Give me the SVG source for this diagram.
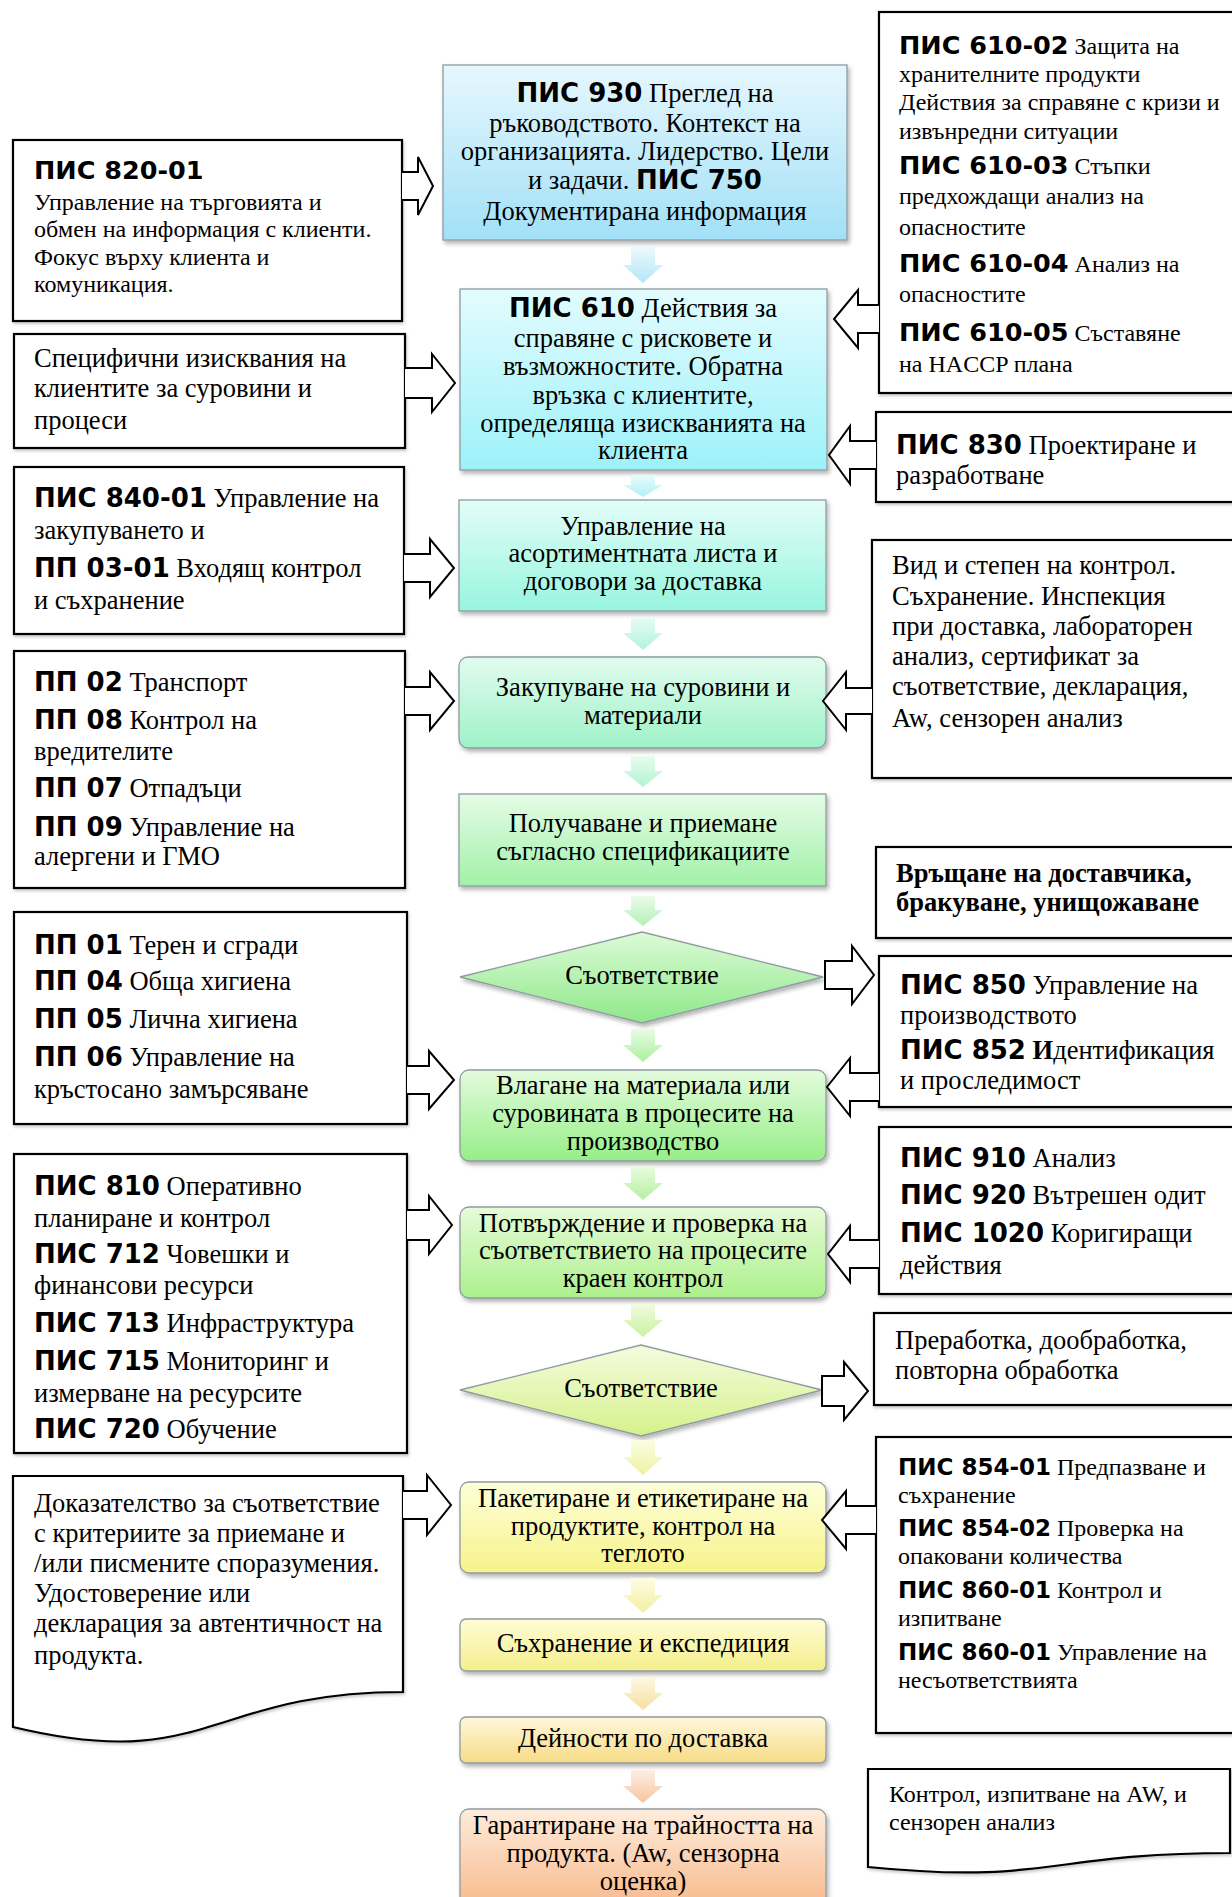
<svg xmlns="http://www.w3.org/2000/svg" width="1232" height="1897" viewBox="0 0 1232 1897">
<style>
.c{font-family:"Liberation Serif","Times New Roman",serif;font-size:26.5px;text-anchor:middle;fill:#000}
.s{font-family:"Liberation Serif","Times New Roman",serif;font-size:26.5px;fill:#000}
.s24{font-family:"Liberation Serif","Times New Roman",serif;font-size:24px;fill:#000}
.b{font-family:"DejaVu Sans","Liberation Sans",sans-serif;font-weight:bold;font-size:26px}
.b25{font-family:"DejaVu Sans","Liberation Sans",sans-serif;font-weight:bold;font-size:25.5px}
.b23{font-family:"DejaVu Sans","Liberation Sans",sans-serif;font-weight:bold;font-size:23px}
.sb{font-weight:bold}
.cbox{stroke:#8f9ba0;stroke-width:1.3}
.side{fill:#fff;stroke:#000;stroke-width:2.2}
.barrow{fill:#fff;stroke:#000;stroke-width:2;stroke-linejoin:miter}
</style>
<defs>
<filter id="sh" x="-5%" y="-5%" width="115%" height="125%">
<feDropShadow dx="2" dy="3" stdDeviation="2" flood-color="#000" flood-opacity="0.3"/>
</filter>
<filter id="sh2" x="-5%" y="-5%" width="115%" height="125%">
<feDropShadow dx="1" dy="2" stdDeviation="1.5" flood-color="#000" flood-opacity="0.22"/>
</filter>
<linearGradient id="g930" x1="0" y1="0" x2="0" y2="1"><stop offset="0" stop-color="#e6f7fd"/><stop offset="1" stop-color="#a2e0f7"/></linearGradient>
<linearGradient id="g610" x1="0" y1="0" x2="0" y2="1"><stop offset="0" stop-color="#e3fcfe"/><stop offset="1" stop-color="#9cf1f9"/></linearGradient>
<linearGradient id="gAs" x1="0" y1="0" x2="0" y2="1"><stop offset="0" stop-color="#e2fdf8"/><stop offset="1" stop-color="#98f5df"/></linearGradient>
<linearGradient id="gZak" x1="0" y1="0" x2="0" y2="1"><stop offset="0" stop-color="#e2fcef"/><stop offset="1" stop-color="#9ef2c8"/></linearGradient>
<linearGradient id="gPol" x1="0" y1="0" x2="0" y2="1"><stop offset="0" stop-color="#e6fce7"/><stop offset="1" stop-color="#a2f1a8"/></linearGradient>
<linearGradient id="gD1" x1="0" y1="0" x2="0" y2="1"><stop offset="0" stop-color="#dcfbd7"/><stop offset="1" stop-color="#8fe88a"/></linearGradient>
<linearGradient id="gVl" x1="0" y1="0" x2="0" y2="1"><stop offset="0" stop-color="#e4fbdd"/><stop offset="1" stop-color="#96ee88"/></linearGradient>
<linearGradient id="gPo" x1="0" y1="0" x2="0" y2="1"><stop offset="0" stop-color="#e7fbd8"/><stop offset="1" stop-color="#acf08c"/></linearGradient>
<linearGradient id="gD2" x1="0" y1="0" x2="0" y2="1"><stop offset="0" stop-color="#f5fbde"/><stop offset="1" stop-color="#d5f28b"/></linearGradient>
<linearGradient id="gPak" x1="0" y1="0" x2="0" y2="1"><stop offset="0" stop-color="#fefed9"/><stop offset="1" stop-color="#f6f38a"/></linearGradient>
<linearGradient id="gSah" x1="0" y1="0" x2="0" y2="1"><stop offset="0" stop-color="#fefdd6"/><stop offset="1" stop-color="#f5ee8c"/></linearGradient>
<linearGradient id="gDei" x1="0" y1="0" x2="0" y2="1"><stop offset="0" stop-color="#fef7da"/><stop offset="1" stop-color="#f7dc86"/></linearGradient>
<linearGradient id="gGar" x1="0" y1="0" x2="0" y2="1"><stop offset="0" stop-color="#feecdd"/><stop offset="1" stop-color="#f7b98a"/></linearGradient>
<linearGradient id="a1" x1="0" y1="0" x2="0" y2="1"><stop offset="0" stop-color="#eef9fd"/><stop offset="1" stop-color="#b5e6f6"/></linearGradient>
<linearGradient id="a2" x1="0" y1="0" x2="0" y2="1"><stop offset="0" stop-color="#eafcfd"/><stop offset="1" stop-color="#b0f1f5"/></linearGradient>
<linearGradient id="a3" x1="0" y1="0" x2="0" y2="1"><stop offset="0" stop-color="#e8fcf5"/><stop offset="1" stop-color="#b0f3df"/></linearGradient>
<linearGradient id="a4" x1="0" y1="0" x2="0" y2="1"><stop offset="0" stop-color="#e8fcf0"/><stop offset="1" stop-color="#b3f2d0"/></linearGradient>
<linearGradient id="a5" x1="0" y1="0" x2="0" y2="1"><stop offset="0" stop-color="#eafcea"/><stop offset="1" stop-color="#b3f0b5"/></linearGradient>
<linearGradient id="a6" x1="0" y1="0" x2="0" y2="1"><stop offset="0" stop-color="#e8fce4"/><stop offset="1" stop-color="#acef9f"/></linearGradient>
<linearGradient id="a7" x1="0" y1="0" x2="0" y2="1"><stop offset="0" stop-color="#eafce2"/><stop offset="1" stop-color="#b5efa0"/></linearGradient>
<linearGradient id="a8" x1="0" y1="0" x2="0" y2="1"><stop offset="0" stop-color="#f1fbe0"/><stop offset="1" stop-color="#c9f29e"/></linearGradient>
<linearGradient id="a9" x1="0" y1="0" x2="0" y2="1"><stop offset="0" stop-color="#fbfde4"/><stop offset="1" stop-color="#eef4a0"/></linearGradient>
<linearGradient id="a10" x1="0" y1="0" x2="0" y2="1"><stop offset="0" stop-color="#fdfde4"/><stop offset="1" stop-color="#f3f0a0"/></linearGradient>
<linearGradient id="a11" x1="0" y1="0" x2="0" y2="1"><stop offset="0" stop-color="#fdf9e4"/><stop offset="1" stop-color="#f5e0a0"/></linearGradient>
<linearGradient id="a12" x1="0" y1="0" x2="0" y2="1"><stop offset="0" stop-color="#fdeee4"/><stop offset="1" stop-color="#f7c59f"/></linearGradient>
</defs>
<rect width="1232" height="1897" fill="#fff"/>

<!-- central column -->
<g id="n930"><rect class="cbox" x="443" y="65" width="404" height="175" fill="url(#g930)" filter="url(#sh)"/>
<text class="c" x="645" y="102"><tspan class="b">ПИС 930</tspan> Преглед на</text>
<text class="c" x="645" y="132">ръководството. Контекст на</text>
<text class="c" x="645" y="160">организацията. Лидерство. Цели</text>
<text class="c" x="645" y="189">и задачи. <tspan class="b">ПИС 750</tspan></text>
<text class="c" x="645" y="220">Документирана информация</text></g>

<g id="n610"><rect class="cbox" x="460" y="289" width="367" height="181" fill="url(#g610)" filter="url(#sh)"/>
<text class="c" x="643" y="317"><tspan class="b">ПИС 610</tspan> Действия за</text>
<text class="c" x="643" y="347">справяне с рисковете и</text>
<text class="c" x="643" y="375">възможностите. Обратна</text>
<text class="c" x="643" y="404">връзка с клиентите,</text>
<text class="c" x="643" y="432">определяща изискванията на</text>
<text class="c" x="643" y="459">клиента</text></g>

<g id="nAsort"><rect class="cbox" x="459" y="500" width="367" height="111" fill="url(#gAs)" filter="url(#sh)"/>
<text class="c" x="643" y="535">Управление на</text>
<text class="c" x="643" y="562">асортиментната листа и</text>
<text class="c" x="643" y="590">договори за доставка</text></g>

<g id="nZak"><rect class="cbox" x="459" y="657" width="367" height="91" rx="9" fill="url(#gZak)" filter="url(#sh)"/>
<text class="c" x="643" y="696">Закупуване на суровини и</text>
<text class="c" x="643" y="724">материали</text></g>

<g id="nPol"><rect class="cbox" x="459" y="794" width="367" height="92" fill="url(#gPol)" filter="url(#sh)"/>
<text class="c" x="643" y="832">Получаване и приемане</text>
<text class="c" x="643" y="860">съгласно спецификациите</text></g>

<g id="nD1"><polygon class="cbox" points="460,977 642,932 823,977 642,1023" fill="url(#gD1)" filter="url(#sh)"/>
<text class="c" x="642" y="984">Съответствие</text></g>

<g id="nVlag"><rect class="cbox" x="460" y="1070" width="366" height="91" rx="9" fill="url(#gVl)" filter="url(#sh)"/>
<text class="c" x="643" y="1094">Влагане на материала или</text>
<text class="c" x="643" y="1122">суровината в процесите на</text>
<text class="c" x="643" y="1150">производство</text></g>

<g id="nPotv"><rect class="cbox" x="460" y="1207" width="366" height="91" rx="9" fill="url(#gPo)" filter="url(#sh)"/>
<text class="c" x="643" y="1232">Потвърждение и проверка на</text>
<text class="c" x="643" y="1259">съответствието на процесите</text>
<text class="c" x="643" y="1287">краен контрол</text></g>

<g id="nD2"><polygon class="cbox" points="460,1390 641,1345 822,1390 641,1436" fill="url(#gD2)" filter="url(#sh)"/>
<text class="c" x="641" y="1397">Съответствие</text></g>

<g id="nPak"><rect class="cbox" x="460" y="1482" width="366" height="91" rx="9" fill="url(#gPak)" filter="url(#sh)"/>
<text class="c" x="643" y="1507">Пакетиране и етикетиране на</text>
<text class="c" x="643" y="1535">продуктите, контрол на</text>
<text class="c" x="643" y="1562">теглото</text></g>

<g id="nSah"><rect class="cbox" x="460" y="1619" width="366" height="52" rx="6" fill="url(#gSah)" filter="url(#sh)"/>
<text class="c" x="643" y="1652">Съхранение и експедиция</text></g>

<g id="nDei"><rect class="cbox" x="460" y="1717" width="366" height="46" rx="6" fill="url(#gDei)" filter="url(#sh)"/>
<text class="c" x="643" y="1747">Дейности по доставка</text></g>

<g id="nGar"><rect class="cbox" x="460" y="1809" width="366" height="100" rx="9" fill="url(#gGar)" filter="url(#sh)"/>
<text class="c" x="643" y="1834">Гарантиране на трайността на</text>
<text class="c" x="643" y="1862">продукта. (Aw, сензорна</text>
<text class="c" x="643" y="1890">оценка)</text></g>

<!-- left column -->
<g id="nL1"><rect class="side" x="13" y="140" width="389" height="181" filter="url(#sh2)"/>
<text class="s24" x="34" y="179"><tspan class="b25">ПИС 820-01</tspan></text>
<text class="s24" x="34" y="210">Управление на търговията и</text>
<text class="s24" x="34" y="237">обмен на информация с клиенти.</text>
<text class="s24" x="34" y="265">Фокус върху клиента и</text>
<text class="s24" x="34" y="292">комуникация.</text></g>

<g id="nL2"><rect class="side" x="14" y="334" width="391" height="114" filter="url(#sh2)"/>
<text class="s" x="34" y="367">Специфични изисквания на</text>
<text class="s" x="34" y="397">клиентите за суровини и</text>
<text class="s" x="34" y="429">процеси</text></g>

<g id="nL3"><rect class="side" x="14" y="467" width="390" height="167" filter="url(#sh2)"/>
<text class="s" x="34" y="507"><tspan class="b">ПИС 840-01</tspan> Управление на</text>
<text class="s" x="34" y="539">закупуването и</text>
<text class="s" x="34" y="577"><tspan class="b">ПП 03-01</tspan> Входящ контрол</text>
<text class="s" x="34" y="609">и съхранение</text></g>

<g id="nL4"><rect class="side" x="14" y="651" width="391" height="237" filter="url(#sh2)"/>
<text class="s" x="34" y="691"><tspan class="b">ПП 02</tspan> Транспорт</text>
<text class="s" x="34" y="729"><tspan class="b">ПП 08</tspan> Контрол на</text>
<text class="s" x="34" y="760">вредителите</text>
<text class="s" x="34" y="797"><tspan class="b">ПП 07</tspan> Отпадъци</text>
<text class="s" x="34" y="836"><tspan class="b">ПП 09</tspan> Управление на</text>
<text class="s" x="34" y="865">алергени и ГМО</text></g>

<g id="nL5"><rect class="side" x="14" y="912" width="393" height="212" filter="url(#sh2)"/>
<text class="s" x="34" y="954"><tspan class="b">ПП 01</tspan> Терен и сгради</text>
<text class="s" x="34" y="990"><tspan class="b">ПП 04</tspan> Обща хигиена</text>
<text class="s" x="34" y="1028"><tspan class="b">ПП 05</tspan> Лична хигиена</text>
<text class="s" x="34" y="1066"><tspan class="b">ПП 06</tspan> Управление на</text>
<text class="s" x="34" y="1098">кръстосано замърсяване</text></g>

<g id="nL6"><rect class="side" x="14" y="1154" width="393" height="299" filter="url(#sh2)"/>
<text class="s" x="34" y="1195"><tspan class="b">ПИС 810</tspan> Оперативно</text>
<text class="s" x="34" y="1227">планиране и контрол</text>
<text class="s" x="34" y="1263"><tspan class="b">ПИС 712</tspan> Човешки и</text>
<text class="s" x="34" y="1294">финансови ресурси</text>
<text class="s" x="34" y="1332"><tspan class="b">ПИС 713</tspan> Инфраструктура</text>
<text class="s" x="34" y="1370"><tspan class="b">ПИС 715</tspan> Мониторинг и</text>
<text class="s" x="34" y="1402">измерване на ресурсите</text>
<text class="s" x="34" y="1438"><tspan class="b">ПИС 720</tspan> Обучение</text></g>

<g id="nL7"><path class="side" d="M13,1476 H403 V1692 C208,1692 208,1774 13,1727 Z" filter="url(#sh2)"/>
<text class="s" x="34" y="1512">Доказателство за съответствие</text>
<text class="s" x="34" y="1542">с критериите за приемане и</text>
<text class="s" x="34" y="1572">/или писмените споразумения.</text>
<text class="s" x="34" y="1602">Удостоверение или</text>
<text class="s" x="34" y="1632">декларация за автентичност на</text>
<text class="s" x="34" y="1664">продукта.</text></g>

<!-- right column -->
<g id="nR1"><rect class="side" x="879" y="12" width="361" height="381" filter="url(#sh2)"/>
<text class="s24" x="899" y="54"><tspan class="b25">ПИС 610-02</tspan> Защита на</text>
<text class="s24" x="899" y="82">хранителните продукти</text>
<text class="s24" x="899" y="110">Действия за справяне с кризи и</text>
<text class="s24" x="899" y="139">извънредни ситуации</text>
<text class="s24" x="899" y="174"><tspan class="b25">ПИС 610-03</tspan> Стъпки</text>
<text class="s24" x="899" y="204">предхождащи анализ на</text>
<text class="s24" x="899" y="235">опасностите</text>
<text class="s24" x="899" y="272"><tspan class="b25">ПИС 610-04</tspan> Анализ на</text>
<text class="s24" x="899" y="302">опасностите</text>
<text class="s24" x="899" y="341"><tspan class="b25">ПИС 610-05</tspan> Съставяне</text>
<text class="s24" x="899" y="372">на HACCP плана</text></g>

<g id="nR2"><rect class="side" x="876" y="412" width="364" height="90" filter="url(#sh2)"/>
<text class="s" x="896" y="454"><tspan class="b">ПИС 830</tspan> Проектиране и</text>
<text class="s" x="896" y="484">разработване</text></g>

<g id="nR3"><rect class="side" x="872" y="540" width="368" height="238" filter="url(#sh2)"/>
<text class="s" x="892" y="574">Вид и степен на контрол.</text>
<text class="s" x="892" y="605">Съхранение. Инспекция</text>
<text class="s" x="892" y="635">при доставка, лабораторен</text>
<text class="s" x="892" y="665">анализ, сертификат за</text>
<text class="s" x="892" y="695">съответствие, декларация,</text>
<text class="s" x="892" y="727">Aw, сензорен анализ</text></g>

<g id="nR4"><rect class="side" x="876" y="847" width="364" height="91" filter="url(#sh2)"/>
<text class="s sb" x="896" y="882" font-size="26">Връщане на доставчика,</text>
<text class="s sb" x="896" y="911" font-size="26">бракуване, унищожаване</text></g>

<g id="nR5"><rect class="side" x="879" y="956" width="361" height="151" filter="url(#sh2)"/>
<text class="s" x="900" y="994"><tspan class="b">ПИС 850</tspan> Управление на</text>
<text class="s" x="900" y="1024">производството</text>
<text class="s" x="900" y="1059"><tspan class="b">ПИС 852</tspan> <tspan class="sb">И</tspan>дентификация</text>
<text class="s" x="900" y="1089">и проследимост</text></g>

<g id="nR6"><rect class="side" x="879" y="1127" width="361" height="167" filter="url(#sh2)"/>
<text class="s" x="900" y="1167"><tspan class="b">ПИС 910</tspan> Анализ</text>
<text class="s" x="900" y="1204"><tspan class="b">ПИС 920</tspan> Вътрешен одит</text>
<text class="s" x="900" y="1242"><tspan class="b">ПИС 1020</tspan> Коригиращи</text>
<text class="s" x="900" y="1274">действия</text></g>

<g id="nR7"><rect class="side" x="874" y="1313" width="366" height="92" filter="url(#sh2)"/>
<text class="s" x="895" y="1349">Преработка, дообработка,</text>
<text class="s" x="895" y="1379">повторна обработка</text></g>

<g id="nR8"><rect class="side" x="876" y="1437" width="364" height="296" filter="url(#sh2)"/>
<text class="s24" x="898" y="1475"><tspan class="b23">ПИС 854-01</tspan> Предпазване и</text>
<text class="s24" x="898" y="1503">съхранение</text>
<text class="s24" x="898" y="1536"><tspan class="b23">ПИС 854-02</tspan> Проверка на</text>
<text class="s24" x="898" y="1564">опаковани количества</text>
<text class="s24" x="898" y="1598"><tspan class="b23">ПИС 860-01</tspan> Контрол и</text>
<text class="s24" x="898" y="1626">изпитване</text>
<text class="s24" x="898" y="1660"><tspan class="b23">ПИС 860-01</tspan> Управление на</text>
<text class="s24" x="898" y="1688">несъответствията</text></g>

<g id="nR9"><path class="side" d="M868,1769 H1230 V1853 C1049,1853 1049,1885 868,1867 Z" filter="url(#sh2)"/>
<text class="s24" x="889" y="1802">Контрол, изпитване на AW, и</text>
<text class="s24" x="889" y="1830">сензорен анализ</text></g>

<!-- connectors -->
<g id="connectors">
<path fill="url(#a1)" d="M631,246 H655 V265 H663 L643,283 L623,265 H631 Z"/>
<path fill="url(#a2)" d="M631,475 H655 V485 H663 L643,497 L623,485 H631 Z"/>
<path fill="url(#a3)" d="M631,617 H655 V633 H663 L643,650 L623,633 H631 Z"/>
<path fill="url(#a4)" d="M631,756 H655 V771 H663 L643,787 L623,771 H631 Z"/>
<path fill="url(#a5)" d="M631,896 H655 V910 H663 L643,926 L623,910 H631 Z"/>
<path fill="url(#a6)" d="M631,1029 H655 V1045 H663 L643,1062 L623,1045 H631 Z"/>
<path fill="url(#a7)" d="M631,1166 H655 V1183 H663 L643,1200 L623,1183 H631 Z"/>
<path fill="url(#a8)" d="M631,1304 H655 V1320 H663 L643,1337 L623,1320 H631 Z"/>
<path fill="url(#a9)" d="M631,1440 H655 V1457 H663 L643,1475 L623,1457 H631 Z"/>
<path fill="url(#a10)" d="M631,1578 H655 V1595 H663 L643,1613 L623,1595 H631 Z"/>
<path fill="url(#a11)" d="M631,1677 H655 V1693 H663 L643,1710 L623,1693 H631 Z"/>
<path fill="url(#a12)" d="M631,1770 H655 V1786 H663 L643,1803 L623,1786 H631 Z"/>

<path class="barrow" d="M402,172 H418 V157 L433,186 L418,215 V200 H402"/>
<path class="barrow" d="M405,368 H432 V354 L455,383 L432,412 V398 H405"/>
<path class="barrow" d="M404,554 H430 V539 L454,568 L430,597 V582 H404"/>
<path class="barrow" d="M405,687 H430 V672 L454,701 L430,730 V715 H405"/>
<path class="barrow" d="M407,1066 H429 V1051 L454,1080 L429,1109 V1094 H407"/>
<path class="barrow" d="M407,1210 H429 V1196 L452,1225 L429,1254 V1240 H407"/>
<path class="barrow" d="M403,1491 H427 V1475 L451,1505 L427,1535 V1519 H403"/>

<path class="barrow" d="M879,305 H858 V290 L834,319 L858,348 V333 H879"/>
<path class="barrow" d="M876,441 H850 V426 L829,455 L850,484 V469 H876"/>
<path class="barrow" d="M872,688 H846 V672 L823,701 L846,730 V714 H872"/>
<path class="barrow" d="M879,1073 H850 V1058 L827,1087 L850,1116 V1101 H879"/>
<path class="barrow" d="M879,1240 H850 V1226 L828,1254 L850,1282 V1268 H879"/>
<path class="barrow" d="M876,1506 H846 V1491 L822,1520 L846,1549 V1534 H876"/>

<path class="barrow" d="M825,961 H852 V946 L874,975 L852,1004 V989 H825 Z"/>
<path class="barrow" d="M822,1376 H844 V1362 L868,1391 L844,1420 V1406 H822 Z"/>
</g>
</svg>
